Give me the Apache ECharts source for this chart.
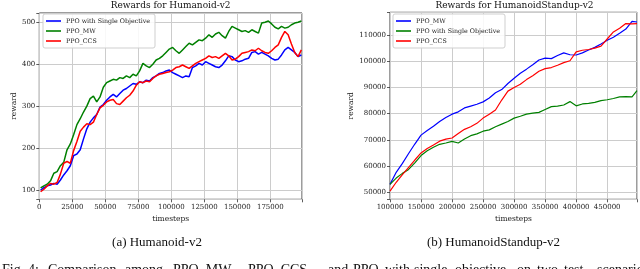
<!DOCTYPE html>
<html><head><meta charset="utf-8">
<script src="https://cdn.jsdelivr.net/npm/echarts@6/dist/echarts.min.js"></script>
<style>html,body{margin:0;padding:0;background:#fff}#c{width:640px;height:269px}</style>
</head><body><div id="c"></div><script>
// ---- Data: Humanoid-v2 ----
const humX = [1000,3500,6000,8500,11000,13500,16000,18500,21000,23500,
26000,28500,31000,33500,36000,38500,41000,43500,46000,48500,
51000,53500,56000,58500,61000,63500,66000,68500,71000,73500,
76000,78500,81000,83500,86000,88500,91000,93500,96000,98500,
101000,103500,106000,108500,111000,113500,116000,118500,121000,123500,
126000,128500,131000,133500,136000,138500,141000,143500,146000,148500,
151000,153500,156000,158500,161000,163500,166000,168500,171000,173500,
176000,178500,181000,183500,186000,188500,191000,193500,196000,198500];
const humSingle = [100,106,110,112,116,114,124,136,146,158,
182,186,196,222,246,262,272,280,298,304,
314,322,328,322,330,338,342,348,354,352,
358,356,362,360,368,372,378,380,384,386,
380,376,372,368,372,370,392,396,402,398,
406,402,398,394,392,398,408,420,418,410,
406,408,412,414,428,430,424,428,424,420,
414,410,412,422,434,440,434,428,418,422];
const humMW = [105,110,114,122,140,144,158,166,196,210,
232,256,270,286,300,318,324,310,322,345,
356,360,364,362,368,366,372,368,376,372,
384,402,396,392,400,410,414,420,428,436,
440,432,426,434,442,450,446,452,458,456,
462,470,464,472,476,468,462,478,490,486,
482,478,480,476,482,478,474,498,500,503,
496,488,484,490,486,488,494,498,500,503];
const humCCS = [96,102,110,116,114,118,138,164,168,164,
194,216,240,250,258,256,262,280,296,302,
310,314,316,306,304,312,320,326,336,350,
358,356,360,358,366,372,376,378,380,382,
386,392,394,398,394,390,396,402,406,410,
414,420,416,418,414,420,426,420,410,412,
418,426,428,430,434,432,438,432,428,426,
432,440,446,464,478,470,448,428,418,434];
// ---- Data: HumanoidStandup-v2 ----
const standX = [100000,110000,120000,130000,140000,150000,160000,170000,180000,190000,
200000,210000,220000,230000,240000,250000,260000,270000,280000,290000,
300000,310000,320000,330000,340000,350000,360000,370000,380000,390000,
400000,410000,420000,430000,440000,450000,460000,470000,480000,490000,498000];
const standMW = [53000,57600,61000,64800,68400,71800,73600,75200,77000,78500,
79800,80700,82200,82900,83600,84500,86000,88000,89200,91500,
93500,95400,97000,98700,100500,101200,101000,102200,103200,102500,
102400,103200,104300,105300,106600,108000,109200,110700,112300,115200,115000];
const standSingle = [53000,55400,57200,58700,61200,64000,65800,67200,68300,68800,
69400,68800,70300,71600,72300,73300,73800,75000,76000,77000,
78300,79000,79800,80200,80500,81600,82700,82900,83300,84600,
83000,83700,83900,84300,85000,85300,85800,86400,86500,86400,88800];
const standCCS = [50400,53800,56700,59500,62300,65000,66700,68000,69500,70300,
70700,72400,74000,75000,76300,78300,79800,81400,85200,88600,
90000,91200,93000,94500,96200,97200,97600,98500,99500,100200,
103600,104200,104500,105000,105800,108500,111200,112600,114400,114300,114400];

const titles = ['Rewards for Humanoid-v2', 'Rewards for HumanoidStandup-v2'];
const captions = ['(a) Humanoid-v2', '(b) HumanoidStandup-v2'];
const figWords = ['Fig.','4:','Comparison','among','PPO_MW,','PPO_CCS','and','PPO','with','single','objective','on','two','test','scenarios'];
const figWordX = [2,28,48,125,173,248,328,353,385,414,455,517,537,564,597];

const FONT = 'DejaVu Serif';
const BLUE = '#0000ff', GREEN = '#008000', RED = '#ff0000';
const zip = (xs, ys) => xs.map((x, i) => [x, ys[i]]);

function xAx(gi, min, max, step) {
  return {type:'value', gridIndex:gi, min, max, minInterval:step, maxInterval:step,
    name:'timesteps', nameLocation:'middle', nameGap:13,
    nameTextStyle:{fontFamily:FONT, fontSize:7.5, color:'#222'},
    axisLine:{show:false},
    axisTick:{show:true, length:3, lineStyle:{color:'#333', width:0.8}},
    axisLabel:{fontFamily:FONT, fontSize:7, color:'#222', margin:4,
      showMinLabel:true, formatter:v => (Math.abs(v % step) < 1e-6 ? String(v) : '')},
    splitLine:{show:true, lineStyle:{color:'#cccccc', width:1}}};
}
function yAx(gi, min, max, step, gap) {
  return {type:'value', gridIndex:gi, min, max, minInterval:step, maxInterval:step,
    name:'reward', nameLocation:'middle', nameGap:gap, nameRotate:90,
    nameTextStyle:{fontFamily:FONT, fontSize:7.5, color:'#222'},
    axisLine:{show:false},
    axisTick:{show:true, length:3, lineStyle:{color:'#333', width:0.8}},
    axisLabel:{fontFamily:FONT, fontSize:7, color:'#222', margin:4,
      formatter:v => (Math.abs(v % step) < 1e-6 ? String(v) : '')},
    splitLine:{show:true, lineStyle:{color:'#cccccc', width:1}}};
}
function ser(name, xi, xs, ys, color, w) {
  return {type:'line', name, xAxisIndex:xi, yAxisIndex:xi, data:zip(xs, ys),
    showSymbol:false, symbol:'none', lineStyle:{color, width:w}, itemStyle:{color}};
}
function legend(left, names, colors) {
  return {left, top:14, orient:'vertical', icon:'rect', itemWidth:15, itemHeight:1.6, itemGap:2,
    padding:[3,5,3,3], backgroundColor:'rgba(255,255,255,0.85)', borderColor:'#cfcfcf', borderWidth:1, borderRadius:2,
    formatter:n => n.replace(/^R:/, ''),
    textStyle:{fontFamily:FONT, fontSize:6.3, color:'#222', lineHeight:8},
    data:names.map((n, i) => ({name:n, itemStyle:{color:colors[i]}}))};
}

const gridStyle = {show:true, borderColor:'#3a3a3a', borderWidth:1, backgroundColor:'#fff', containLabel:false};
const graphics = [
  {type:'text', x:170.6, y:5.5, style:{text:titles[0], fontFamily:FONT, fontSize:9, fill:'#111', align:'center', verticalAlign:'middle'}},
  {type:'text', x:514.5, y:5.5, style:{text:titles[1], fontFamily:FONT, fontSize:9, fill:'#111', align:'center', verticalAlign:'middle'}},
  {type:'text', x:157, y:243, style:{text:captions[0], fontFamily:'Liberation Serif', fontSize:13, fill:'#111', align:'center', verticalAlign:'middle'}},
  {type:'text', x:493.5, y:243, style:{text:captions[1], fontFamily:'Liberation Serif', fontSize:13, fill:'#111', align:'center', verticalAlign:'middle'}}
];
figWords.forEach((w, i) => graphics.push({type:'text', x:figWordX[i], y:263,
  style:{text:w, fontFamily:'Liberation Serif', fontSize:14, fill:'#111', align:'left', verticalAlign:'top'}}));

const option = {
  animation:false,
  backgroundColor:'#fff',
  grid:[
    Object.assign({left:39.3, top:13, width:262.7, height:186.3}, gridStyle),
    Object.assign({left:390, top:12.3, width:249, height:187}, gridStyle)
  ],
  xAxis:[xAx(0, 0, 199000, 25000), xAx(1, 100000, 498000, 50000)],
  yAxis:[yAx(0, 78, 522, 100, 21), yAx(1, 47300, 118700, 10000, 32)],
  legend:[
    legend(43, ['PPO with Single Objective','PPO_MW','PPO_CCS'], [BLUE, GREEN, RED]),
    legend(393, ['R:PPO_MW','R:PPO with Single Objective','R:PPO_CCS'], [BLUE, GREEN, RED])
  ],
  series:[
    ser('PPO with Single Objective', 0, humX, humSingle, BLUE, 1.5),
    ser('PPO_MW', 0, humX, humMW, GREEN, 1.5),
    ser('PPO_CCS', 0, humX, humCCS, RED, 1.5),
    ser('R:PPO_MW', 1, standX, standMW, BLUE, 1.2),
    ser('R:PPO with Single Objective', 1, standX, standSingle, GREEN, 1.2),
    ser('R:PPO_CCS', 1, standX, standCCS, RED, 1.2)
  ],
  graphic:graphics
};
const chart = echarts.init(document.getElementById('c'), null, {renderer:'canvas'});
chart.setOption(option);
</script></body></html>
